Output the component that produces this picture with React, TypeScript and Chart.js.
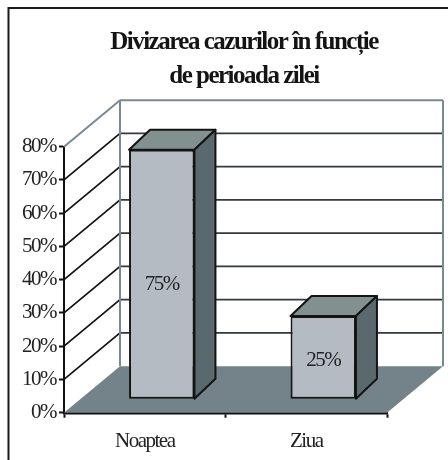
import React, { useEffect, useRef } from "react";
import { Chart, registerables } from "chart.js";

Chart.register(...registerables);

const categories = ["Noaptea", "Ziua"];
const shares = [75, 25];
const titleLines = ["Divizarea cazurilor în funcție", "de perioada zilei"];
const yTicks = [0, 10, 20, 30, 40, 50, 60, 70, 80];

const WALL_DX = 56;
const WALL_DY = -46.5;
const BAR_SHIFT_X = 17;
const BAR_SHIFT_Y = -13.5;
const BAR_DX = 21;
const BAR_DY = -20;
const SERIF = '"Liberation Serif", serif';

const scene3d = {
  id: "scene3d",
  afterLayout(chart: any) {
    chart.titleBlock.left += 50.5;
    chart.titleBlock.right += 50.5;
  },
  beforeDraw(chart: any) {
    const { ctx, width, height } = chart;
    ctx.fillStyle = "#fff";
    ctx.fillRect(0, 0, width, height);
    ctx.strokeStyle = "#1a1a1a";
    ctx.lineWidth = 2;
    ctx.beginPath();
    ctx.moveTo(8.5, height);
    ctx.lineTo(8.5, 8);
    ctx.lineTo(width, 8);
    ctx.stroke();
    ctx.letterSpacing = "-1.5px";
  },
  beforeDatasetsDraw(chart: any) {
    const { ctx, chartArea: a, scales } = chart;
    const y = scales.y;
    ctx.save();
    ctx.beginPath();
    ctx.moveTo(a.left, a.bottom);
    ctx.lineTo(a.left + WALL_DX, a.bottom + WALL_DY);
    ctx.lineTo(a.right + WALL_DX, a.bottom + WALL_DY);
    ctx.lineTo(a.right, a.bottom);
    ctx.closePath();
    ctx.fillStyle = "#748389";
    ctx.fill();
    yTicks.forEach((t) => {
      if (t === 0) return;
      const py = y.getPixelForValue(t);
      const top = t === 80;
      ctx.strokeStyle = top ? "#7b8a90" : "#111";
      ctx.lineWidth = top ? 2 : 1.7;
      ctx.beginPath();
      ctx.moveTo(a.left, py);
      ctx.lineTo(a.left + WALL_DX, py + WALL_DY);
      ctx.stroke();
      ctx.strokeStyle = top ? "#7b8a90" : "#33393c";
      ctx.beginPath();
      ctx.moveTo(a.left + WALL_DX, py + WALL_DY);
      ctx.lineTo(a.right + WALL_DX, py + WALL_DY);
      ctx.stroke();
    });
    ctx.strokeStyle = "#7b8a90";
    ctx.lineWidth = 2;
    ctx.beginPath();
    ctx.moveTo(a.left + WALL_DX, a.top + WALL_DY);
    ctx.lineTo(a.left + WALL_DX, a.bottom + WALL_DY);
    ctx.moveTo(a.right + WALL_DX, a.top + WALL_DY);
    ctx.lineTo(a.right + WALL_DX, a.bottom + WALL_DY);
    ctx.stroke();
    ctx.restore();

    const meta = chart.getDatasetMeta(0);
    ctx.save();
    ctx.translate(BAR_SHIFT_X, BAR_SHIFT_Y);
    ctx.lineWidth = 2;
    ctx.strokeStyle = "#141414";
    ctx.lineJoin = "round";
    meta.data.forEach((bar: any) => {
      const l = bar.x - bar.width / 2;
      const r = bar.x + bar.width / 2;
      ctx.beginPath();
      ctx.moveTo(l, bar.y);
      ctx.lineTo(l + BAR_DX, bar.y + BAR_DY);
      ctx.lineTo(r + BAR_DX, bar.y + BAR_DY);
      ctx.lineTo(r, bar.y);
      ctx.closePath();
      ctx.fillStyle = "#82908f";
      ctx.fill();
      ctx.stroke();
      ctx.beginPath();
      ctx.moveTo(r, bar.y);
      ctx.lineTo(r + BAR_DX, bar.y + BAR_DY);
      ctx.lineTo(r + BAR_DX, bar.base + BAR_DY);
      ctx.lineTo(r, bar.base);
      ctx.closePath();
      ctx.fillStyle = "#5a696d";
      ctx.fill();
      ctx.stroke();
    });
  },
  afterDatasetsDraw(chart: any) {
    const { ctx } = chart;
    const meta = chart.getDatasetMeta(0);
    ctx.font = `21px ${SERIF}`;
    ctx.fillStyle = "#222";
    ctx.textAlign = "center";
    ctx.textBaseline = "middle";
    meta.data.forEach((bar: any, i: number) => {
      const py = bar.base - (bar.base - bar.y) * 0.46;
      ctx.fillText(`${shares[i]}%`, bar.x, py);
    });
    ctx.restore();
  },
};

export default function App() {
  const ref = useRef<HTMLCanvasElement>(null);
  useEffect(() => {
    const chart = new Chart(ref.current!, {
      type: "bar",
      plugins: [scene3d],
      data: {
        labels: categories,
        datasets: [
          {
            data: shares,
            backgroundColor: "#b4bbc3",
            borderColor: "#141414",
            borderWidth: 2,
            borderSkipped: false,
            barPercentage: 0.81,
            categoryPercentage: 0.5,
          },
        ],
      },
      options: {
        responsive: false,
        animation: false,
        layout: { padding: { top: 8, right: 61, left: 0, bottom: 0 } },
        plugins: {
          legend: { display: false },
          tooltip: { enabled: false },
          title: {
            display: true,
            text: titleLines,
            color: "#141414",
            font: { family: SERIF, size: 25, weight: "bold", lineHeight: 1.36 },
            padding: { top: 18, bottom: 52.7 },
          },
        },
        scales: {
          x: {
            afterFit(s: any) {
              s.height = 47.3;
            },
            grid: {
              drawOnChartArea: false,
              drawTicks: true,
              tickLength: 5,
              tickColor: "#111",
              tickWidth: 2,
              offset: true,
            },
            border: { color: "#111", width: 2.4 },
            ticks: {
              color: "#222",
              padding: 11,
              maxRotation: 0,
              font: { family: SERIF, size: 21 },
            },
          },
          y: {
            min: 0,
            max: 80,
            afterFit(s: any) {
              s.width = 64;
            },
            grid: {
              drawOnChartArea: false,
              tickLength: 5,
              tickColor: "#111",
              tickWidth: 2,
            },
            border: { color: "#111", width: 2 },
            ticks: {
              stepSize: 10,
              color: "#222",
              padding: 3,
              font: { family: SERIF, size: 21 },
              callback: (v: any) => `${v}%`,
            },
          },
        },
      },
    } as any);
    return () => chart.destroy();
  }, []);
  return (
    <canvas
      ref={ref}
      width={448}
      height={460}
      style={{ position: "absolute", left: 0, top: 0, display: "block" }}
    />
  );
}
